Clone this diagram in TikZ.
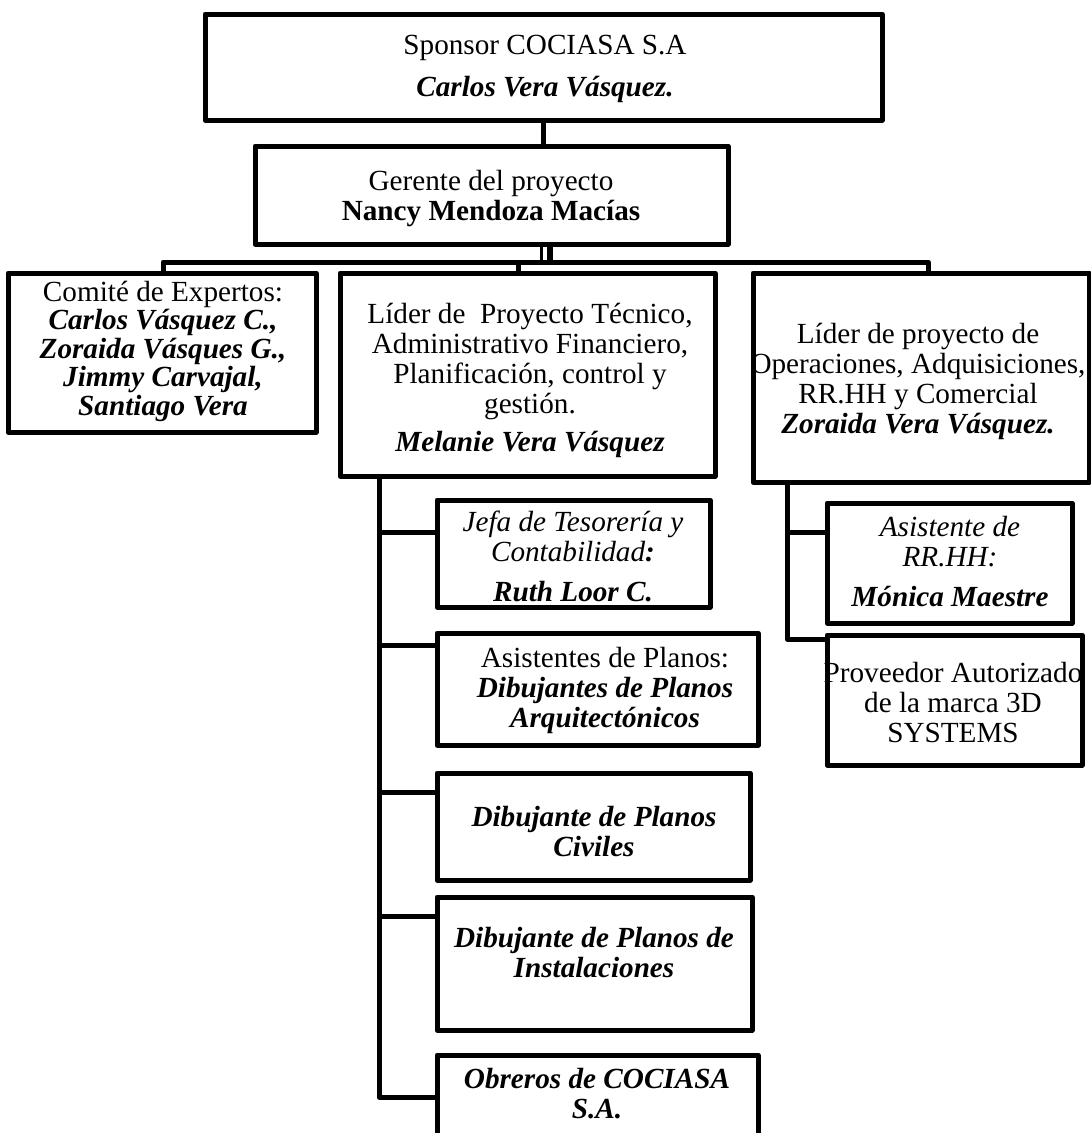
\documentclass[tikz,border=0pt]{standalone}
\usepackage{fontspec}
\setmainfont{Liberation Serif}
\newcommand\nmbi[1]{\textbf{\textit{#1}}}
\begin{document}
\begin{tikzpicture}[x=1pt,y=-1pt,
  orgbox/.style={draw, line width=5pt, line join=round, rectangle, inner sep=0pt},
  txt/.style={align=center, inner sep=0pt, font=\fontsize{29.2}{30}\selectfont},
  tighttxt/.style={txt, font=\fontsize{29.2}{28.5}\selectfont},
  link/.style={line width=5pt, line join=round},
  thinlink/.style={line width=3.5pt},
  thicklink/.style={line width=6pt}]
\useasboundingbox (0,0) rectangle (1091,1133);
\clip (0,0) rectangle (1091,1133);

% boxes
\node[orgbox, minimum width=677, minimum height=106] (sponsor) at (543.5,67) {};
\node[orgbox, minimum width=473, minimum height=98] (gerente) at (491.5,195) {};
\node[orgbox, minimum width=308, minimum height=159] (comite) at (162,352.5) {};
\node[orgbox, minimum width=375, minimum height=203] (lidertec) at (527.5,374.5) {};
\node[orgbox, minimum width=336, minimum height=209] (liderops) at (921,377.5) {};
\node[orgbox, minimum width=273, minimum height=107] (jefa) at (573.5,553.5) {};
\node[orgbox, minimum width=321, minimum height=112] (asisplanos) at (597.5,689) {};
\node[orgbox, minimum width=313, minimum height=107] (civiles) at (593.5,826.5) {};
\node[orgbox, minimum width=315, minimum height=133] (instal) at (594.5,963.5) {};
\node[orgbox, minimum width=321, minimum height=105] (obreros) at (597.5,1107.5) {};
\node[orgbox, minimum width=245, minimum height=120] (rrhh) at (949.5,563) {};
\node[orgbox, minimum width=255, minimum height=130] (proveedor) at (954.5,700) {};

% texts
\node[txt] (sponsor-t) at (545,69) {Sponsor COCIASA S.A\\[12pt]\nmbi{Carlos Vera Vásquez.}};
\node[txt] (gerente-t) at (491,199) {Gerente del proyecto\\\textbf{Nancy Mendoza Macías}};
\node[tighttxt] (comite-t) at (163,351) {Comité de Expertos:\\\nmbi{Carlos Vásquez C.,}\\\nmbi{Zoraida Vásques G.,}\\\nmbi{Jimmy Carvajal,}\\\nmbi{Santiago Vera}};
\node[txt] (lidertec-t) at (530,380) {Líder de\ \ Proyecto Técnico,\\Administrativo Financiero,\\Planificación, control y\\gestión.\\[8pt]\nmbi{Melanie Vera Vásquez}};
\node[txt] (liderops-t) at (918,381) {Líder de proyecto de\\Operaciones, Adquisiciones,\\RR.HH y Comercial\\\nmbi{Zoraida Vera Vásquez.}};
\node[txt] (jefa-t) at (573,556) {\textit{Jefa de Tesorería y}\\\textit{Contabilidad}\nmbi{:}\\[10pt]\nmbi{Ruth Loor C.}};
\node[txt] (asisplanos-t) at (605,690) {Asistentes de Planos:\\\nmbi{Dibujantes de Planos}\\\nmbi{Arquitectónicos}};
\node[txt] (civiles-t) at (594,832) {\nmbi{Dibujante de Planos}\\\nmbi{Civiles}};
\node[txt] (instal-t) at (594,953) {\nmbi{Dibujante de Planos de}\\\nmbi{Instalaciones}};
\node[txt] (obreros-t) at (597,1094) {\nmbi{Obreros de COCIASA}\\\nmbi{S.A.}};
\node[txt] (rrhh-t) at (950,562) {\textit{Asistente de}\\\textit{RR.HH:}\\[10pt]\nmbi{Mónica Maestre}};
\node[txt] (proveedor-t) at (953,703) {Proveedor Autorizado\\de la marca 3D\\SYSTEMS};

% sponsor to project manager
\draw[link] (sponsor.south) -- (sponsor.south |- gerente.north);

% project manager down to the distribution bar
\coordinate (busL) at (163,262);
\coordinate (busR) at (928,262);
\draw[thinlink] (541.5,0 |- gerente.south) -- (541.5,0 |- busL);
\draw[thicklink] (549.5,0 |- gerente.south) -- (549.5,0 |- busL);
\draw[link] (busL |- comite.north) -- (busL) -- (busR) -- (busR |- liderops.north);
\draw[link] (518,0 |- busL) -- (518,0 |- lidertec.north);

% technical leader branch
\draw[link] (379,0 |- lidertec.south) |- (obreros.west |- 0,1097);
\draw[link] (379,532) -- (jefa.west |- 0,532);
\draw[link] (379,645) -- (asisplanos.west |- 0,645);
\draw[link] (379,792) -- (civiles.west |- 0,792);
\draw[link] (379,916) -- (instal.west |- 0,916);

% operations leader branch
\draw[link] (787,0 |- liderops.south) |- (proveedor.west |- 0,639);
\draw[link] (787,532) -- (rrhh.west |- 0,532);
\end{tikzpicture}
\end{document}
